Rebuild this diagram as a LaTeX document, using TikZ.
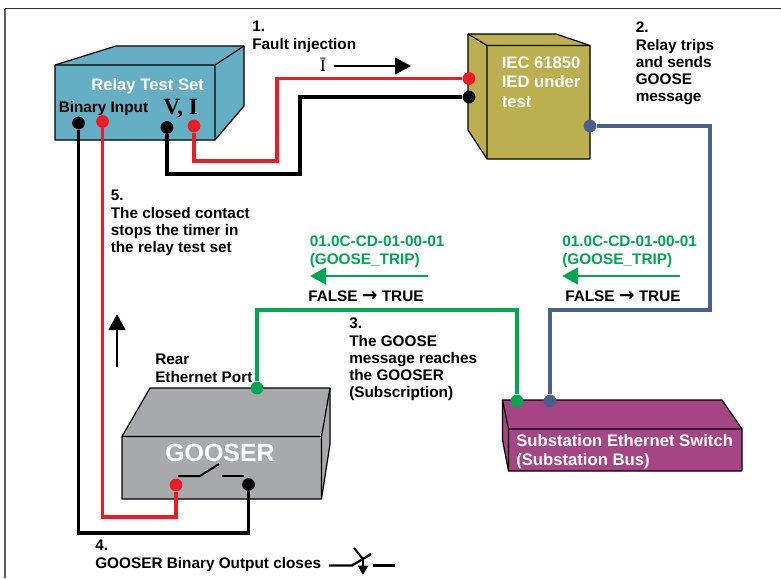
\documentclass[tikz,border=0pt]{standalone}
\usepackage{xcolor}
\usepackage{fontspec}
\setmainfont{Liberation Sans}
\newfontfamily\serifb{Liberation Serif}
\newfontfamily\arrowf{DejaVu Sans}
\definecolor{teal2}{HTML}{65AFC4}
\definecolor{olive2}{HTML}{BCAF4F}
\definecolor{purp2}{HTML}{A54583}
\definecolor{grey2}{HTML}{A7A9AC}
\definecolor{redw}{HTML}{ED1C24}
\definecolor{vert}{HTML}{00A651}
\definecolor{bluew}{HTML}{4A5F8C}
\usetikzlibrary{arrows.meta,calc}
\tikzset{
  box/.style={draw=black,line width=0.9pt,line join=round},
  dot/.style={circle,inner sep=0pt,minimum size=9.6pt},
  wire/.style={line width=2.9pt},
  lab/.style={anchor=north west,inner sep=0pt,align=left,font=\bfseries\fontsize{11.5}{12.9}\selectfont},
  glab/.style={lab,text=vert},
  wlab/.style={lab,text=white,font=\bfseries\fontsize{12.5}{14.3}\selectfont},
  bigarrow/.style={-{Triangle[length=12pt,width=12.5pt]},line width=1.6pt},
  garrow/.style={-{Triangle[length=12pt,width=12.5pt]},line width=2pt,draw=vert},
  sw/.style={line width=1.5pt},
}
\begin{document}
\begin{tikzpicture}[x=0.75pt,y=-0.75pt]
  \useasboundingbox (0,0) rectangle (781,578);

  \draw[line width=1.5pt,black!65] (5,578) -- (5,8.5);
  \draw[line width=1.1pt,black!80] (5,8.5) -- (781,8.5);

  % boxes
  \draw[box,fill=teal2] (55,65) -- (116,46) -- (244,46) -- (244,106) -- (215,140) -- (55,140) -- cycle;
  \draw[box] (55,65) -- (215,65) -- (244,46) (215,65) -- (215,140);

  \draw[box,fill=olive2] (468,34) -- (556,34) -- (590,45.5) -- (590,159) -- (487,159) -- (468,130) -- cycle;
  \draw[box] (468,34) -- (487,45.5) -- (590,45.5) (487,45.5) -- (487,159);

  \draw[box,fill=grey2] (150,388) -- (330,388) -- (330,444) -- (321.5,499) -- (122,499) -- (122,436.5) -- cycle;
  \draw[box] (122,436.5) -- (321.5,436.5) -- (330,388) (321.5,436.5) -- (321.5,499);

  \draw[box,fill=purp2] (502.5,400) -- (722,400) -- (742,429) -- (742,471) -- (508.5,471) -- (502.5,440) -- cycle;
  \draw[box] (502.5,400) -- (508.5,429) -- (742,429) (508.5,429) -- (508.5,471);

  % contacts
  \node[dot,fill=black] (binblack) at (78.5,123) {};
  \node[dot,fill=redw] (binred) at (102.5,121.5) {};
  \node[dot,fill=black] (vport) at (167,127.5) {};
  \node[dot,fill=redw] (iport) at (194,126) {};
  \node[dot,fill=redw] (iedred) at (469,78.5) {};
  \node[dot,fill=black] (iedblack) at (469,97) {};
  \node[dot,fill=bluew] (iedblue) at (590,126) {};
  \node[dot,fill=vert] (goosein) at (257,388) {};
  \node[dot,fill=vert] (swgreen) at (517,401) {};
  \node[dot,fill=bluew] (swblue) at (550,401) {};
  \node[dot,fill=redw] (goosered) at (176,485) {};
  \node[dot,fill=black] (gooseblack) at (248.5,484.5) {};

  \coordinate (c1) at (277,161);
  \coordinate (c2) at (300,174);
  \coordinate (c3) at (78.5,533);
  \coordinate (c4) at (102.5,517);
  \coordinate (c5) at (710,126);
  \coordinate (c6) at (710,310);
  \coordinate (c7) at (257,310);

  \draw[wire,redw] (iport) |- (c1) |- (iedred);
  \draw[wire,black] (vport) |- (c2) |- (iedblack);
  \draw[wire,black] (binblack) -- (c3) -| (gooseblack);
  \draw[wire,redw] (binred) -- (c4) -| (goosered);
  \draw[wire,bluew] (iedblue) -- (c5) -- (c6) -| (swblue);
  \draw[wire,vert] (goosein) -- (c7) -| (swgreen);

  % labels
  \node[wlab] (rts) at (91,78) {Relay Test Set};
  \node[lab] (binin) at (58.5,101.5) {Binary Input};
  \node[anchor=north west,inner sep=0pt,font=\serifb\bfseries\fontsize{17.5}{18}\selectfont] (vi) at (163,99) {V, I};
  \node[wlab] (ied) at (501.5,57) {IEC 61850\\IED under\\test};
  \node[wlab,font=\bfseries\fontsize{18.7}{20}\selectfont] (goosername) at (165,444) {GOOSER};
  \node[wlab] (swname) at (516,434) {Substation Ethernet Switch\\(Substation Bus)};

  \node[lab] (step1) at (252,21) {1.\\Fault injection};
  \node[anchor=center,inner sep=0pt,font=\serifb\fontsize{13}{14}\selectfont] (ibar) at (323,64.5) {Ī};
  \coordinate (ia) at (334,66);
  \coordinate (ib) at (411,66);
  \draw[bigarrow] (ia) -- (ib);

  \node[lab] (step2) at (635.5,22) {2.\\Relay trips\\and sends\\GOOSE\\message};
  \node[lab] (step3) at (349,318) {3.\\The GOOSE\\message reaches\\the GOOSER\\(Subscription)};
  \node[lab] (step4) at (95,540) {4.\\GOOSER Binary Output closes};
  \node[lab] (step5) at (110.5,190) {5.\\The closed contact\\stops the timer in\\the relay test set};
  \node[lab] (rear) at (155,354) {Rear\\Ethernet Port};

  \node[glab] (mac1) at (309.5,236) {01.0C-CD-01-00-01\\(GOOSE\_TRIP)};
  \node[glab] (mac2) at (562,236) {01.0C-CD-01-00-01\\(GOOSE\_TRIP)};
  \coordinate (g1a) at (428,276);
  \coordinate (g1b) at (310,276);
  \coordinate (g2a) at (680,276);
  \coordinate (g2b) at (562,276);
  \draw[garrow] (g1a) -- (g1b);
  \draw[garrow] (g2a) -- (g2b);
  \node[lab] (ft1) at (308,291) {FALSE {\arrowf\fontsize{14}{14}\selectfont →} TRUE};
  \node[lab] (ft2) at (565,291) {FALSE {\arrowf\fontsize{14}{14}\selectfont →} TRUE};

  \coordinate (upa) at (117,367);
  \coordinate (upb) at (117,314);
  \draw[bigarrow] (upa) -- (upb);

  % open contact in the gooser
  \coordinate (s1) at (178,476);
  \coordinate (s2) at (200,476);
  \coordinate (s3) at (219,464);
  \coordinate (s4) at (222,475.5);
  \coordinate (s5) at (244,475.5);
  \draw[sw] (s1) -- (s2) -- (s3);
  \draw[sw] (s4) -- (s5);

  % closing contact symbol
  \coordinate (k1) at (329,565.5);
  \coordinate (k2) at (352,565.5);
  \coordinate (k3) at (371,554);
  \coordinate (k4) at (354,548);
  \coordinate (k5) at (363,559);
  \coordinate (k6) at (363,575);
  \coordinate (k7) at (373,565.5);
  \coordinate (k8) at (395,565.5);
  \draw[sw,line width=1.7pt] (k1) -- (k2) -- (k3);
  \draw[sw] (k4) -- (k5);
  \draw[sw,-{Triangle[length=7pt,width=7.5pt]}] (k5) -- (k6);
  \draw[sw,line width=1.7pt] (k7) -- (k8);
\end{tikzpicture}
\end{document}
